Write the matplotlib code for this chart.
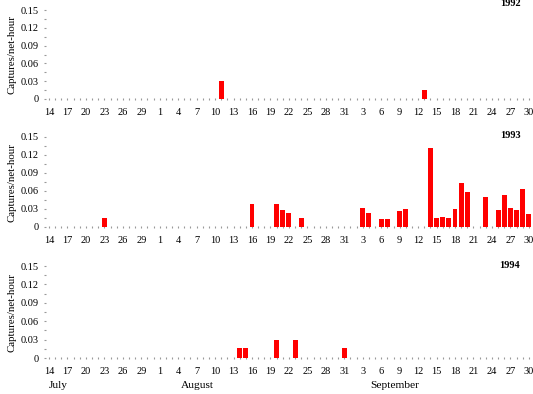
import matplotlib
matplotlib.use("Agg")
import matplotlib.pyplot as plt
import numpy as np
import datetime as dt

plt.rcParams['font.family'] = ['Liberation Serif', 'DejaVu Serif']

# Day index 0 = July 14, ..., 78 = Sept 30
start = dt.date(1993, 7, 14)
def idx(month, day):
    return (dt.date(1993, month, day) - start).days

years = ["1992", "1993", "1994"]

dates_1992 = [(8, 11), (9, 13)]
vals_1992 = [0.030, 0.015]

dates_1993 = [(7, 23), (8, 16), (8, 20), (8, 21), (8, 22), (8, 24),
              (9, 3), (9, 4), (9, 6), (9, 7), (9, 9), (9, 10),
              (9, 14), (9, 15), (9, 16), (9, 17), (9, 18), (9, 19), (9, 20),
              (9, 23), (9, 25), (9, 26), (9, 27), (9, 28), (9, 29), (9, 30)]
vals_1993 = [0.015, 0.038, 0.038, 0.029, 0.024, 0.015,
             0.031, 0.024, 0.014, 0.014, 0.026, 0.030,
             0.132, 0.015, 0.017, 0.015, 0.030, 0.074, 0.059,
             0.050, 0.029, 0.054, 0.031, 0.028, 0.064, 0.022]

dates_1994 = [(8, 14), (8, 15), (8, 20), (8, 23), (8, 31)]
vals_1994 = [0.016, 0.016, 0.030, 0.030, 0.017]

series = [(dates_1992, vals_1992), (dates_1993, vals_1993), (dates_1994, vals_1994)]

tick_days = list(range(0, 79, 3))
tick_labels = [str((start + dt.timedelta(days=d)).day) for d in tick_days]
y_ticks = [0, 0.03, 0.06, 0.09, 0.12, 0.15]
y_tick_labels = ["0", "0.03", "0.06", "0.09", "0.12", "0.15"]
months = ["July", "August", "September"]

W, H = 533, 394
fig = plt.figure(figsize=(W / 100, H / 100), dpi=100)

# panel pixel geometry: (y of zero line, y of 0.15 line)
panels_px = [(99, 10), (227, 137), (358, 266)]
label_y_px = [4, 136, 266]
left_px, right_px = 45, 531

for i, ((dates, vals), (y0, y1)) in enumerate(zip(series, panels_px)):
    ax = fig.add_axes([left_px / W, 1 - y0 / H, (right_px - left_px) / W, (y0 - y1) / H])
    x = [idx(m, d) for m, d in dates]
    ax.bar(x, vals, width=0.8, color='#ff0000', edgecolor='none', zorder=3)
    ax.set_xlim(-0.65, 78.35)
    ax.set_ylim(0, 0.15)
    ax.set_xticks(tick_days)
    ax.set_xticklabels(tick_labels)
    ax.set_xticks(range(0, 79), minor=True)
    ax.set_yticks(y_ticks)
    ax.set_yticklabels(y_tick_labels)
    ax.set_yticks(np.arange(0, 0.151, 0.015), minor=True)
    for s in ['top', 'right', 'bottom', 'left']:
        ax.spines[s].set_visible(False)
    ax.tick_params(axis='x', which='both', length=1.0, width=0.8, color='#999999',
                   direction='inout', labelsize=7.5, pad=6)
    ax.tick_params(axis='y', which='both', length=1.0, width=0.8, color='#999999',
                   direction='inout', labelsize=7.5, pad=4)
    ax.set_ylabel("Captures/net-hour", fontsize=7.8)
    ax.yaxis.set_label_coords(-0.058, 0.5)
    ax.patch.set_alpha(0)
    fig.text(510 / W, 1 - label_y_px[i] / H, years[i], fontsize=7.5,
             fontweight='bold', ha='center', va='center')

month_x = [58, 197, 395]
for m, xp in zip(months, month_x):
    fig.text(xp / W, 1 - 386 / H, m, fontsize=8.2, ha='center', va='center')

fig.savefig("out.png", dpi=100)
